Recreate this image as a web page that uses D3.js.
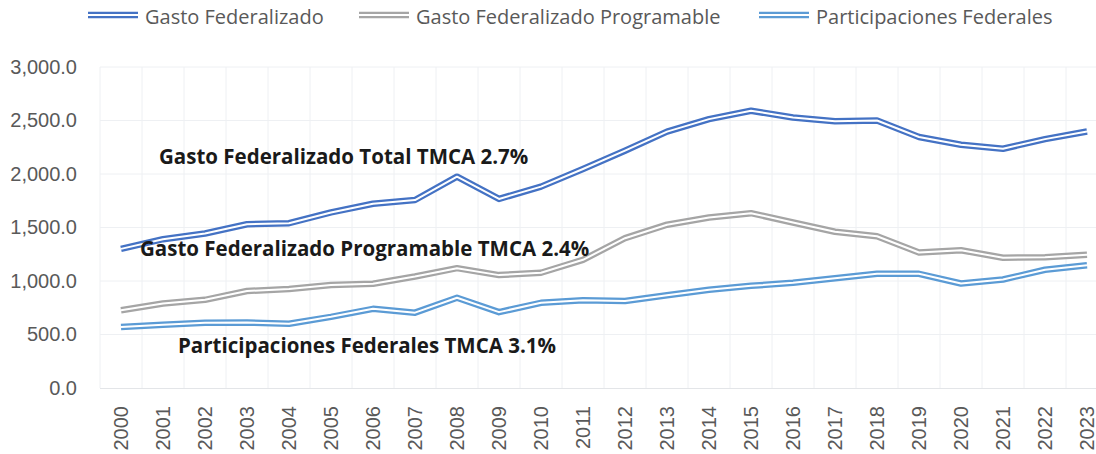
<!DOCTYPE html>
<html>
<head>
<meta charset="utf-8">
<script src="https://cdn.jsdelivr.net/npm/d3@7"></script>
<style>
	html, body { margin: 0; padding: 0; background: #fff; }
	svg { display: block; font-family: 'Open Sans', 'Noto Sans', sans-serif; }
</style>
</head>
<body>
<svg id="chart"></svg>
<script>
// data
const years = ['2000', '2001', '2002', '2003', '2004', '2005', '2006', '2007', '2008', '2009', '2010', '2011',
	'2012', '2013', '2014', '2015', '2016', '2017', '2018', '2019', '2020', '2021', '2022', '2023'];
const gastoFederalizado = [1300, 1391, 1444, 1530, 1540, 1641, 1722, 1757, 1975, 1767, 1882, 2047,
	2218, 2396, 2513, 2591, 2528, 2494, 2500, 2346, 2273, 2236, 2326, 2397];
const gastoProgramable = [726, 790, 824, 907, 925, 963, 975, 1042, 1120, 1055, 1077, 1198,
	1400, 1526, 1594, 1634, 1547, 1460, 1418, 1266, 1288, 1217, 1222, 1246];
const participaciones = [570, 591, 609, 612, 601, 665, 740, 704, 843, 709, 796, 821,
	813, 867, 918, 955, 983, 1026, 1067, 1067, 977, 1014, 1105, 1147];
const yTicks = [0, 500, 1000, 1500, 2000, 2500, 3000];
const seriesNames = ['Gasto Federalizado', 'Gasto Federalizado Programable', 'Participaciones Federales'];
const notes = ['Gasto Federalizado Total TMCA 2.7%', 'Gasto Federalizado Programable TMCA 2.4%', 'Participaciones Federales TMCA 3.1%'];

const totalWidth = 1096,
	totalHeight = 454;
const colors = ['#4472C4', '#A5A5A5', '#5B9BD5'];
const series = [gastoFederalizado, gastoProgramable, participaciones];

const svg = d3.select('#chart').attr('width', totalWidth).attr('height', totalHeight);

//scales - plot area runs past the right edge like in the picture
const xScale = d3.scaleBand().domain(years).range([100, 1108]);
const yScale = d3.scaleLinear().domain([0, 3000]).range([388, 67]);

//gridlines
const grid = svg.append('g');
grid.selectAll('.hgrid')
	.data(yTicks.slice(1))
	.enter()
	.append('line')
	.attr('x1', 100)
	.attr('x2', totalWidth)
	.attr('y1', (d) => yScale(d))
	.attr('y2', (d) => yScale(d))
	.attr('stroke', '#EEF0F3')
	.attr('stroke-width', 1);
grid.selectAll('.vgrid')
	.data(years)
	.enter()
	.append('line')
	.attr('x1', (d) => xScale(d))
	.attr('x2', (d) => xScale(d))
	.attr('y1', yScale(3000))
	.attr('y2', yScale(0))
	.attr('stroke', '#EEF0F3')
	.attr('stroke-width', 1);

//y axis labels
const yAxis = d3.axisLeft(yScale).tickValues(yTicks).tickFormat(d3.format(',.1f')).tickSize(0).tickPadding(0);
svg.append('g')
	.attr('transform', 'translate(77,0)')
	.call(yAxis)
	.call((g) => g.select('.domain').remove())
	.selectAll('text')
	.style('font-size', '20px')
	.attr('fill', '#595959')
	.attr('font-family', null);

//x axis
const xAxis = d3.axisBottom(xScale).tickSize(0).tickPadding(0);
const xg = svg.append('g')
	.attr('transform', 'translate(0,' + yScale(0) + ')')
	.call(xAxis);
xg.select('.domain').attr('stroke', '#E3E5E8').attr('d', 'M100,0.5H' + totalWidth);
xg.selectAll('text')
	.attr('font-family', null)
	.style('font-size', '20px')
	.attr('fill', '#595959')
	.attr('text-anchor', 'end')
	.attr('dy', '0.35em')
	.attr('transform', 'translate(0,18) rotate(-90)')
	.attr('x', 0)
	.attr('y', 0);

//double lines
const line = d3.line()
	.x((d, i) => xScale(years[i]) + xScale.bandwidth() / 2)
	.y((d) => yScale(d));

series.forEach((s, k) => {
	const g = svg.append('g');
	g.append('path')
		.attr('d', line(s))
		.attr('fill', 'none')
		.attr('stroke', colors[k])
		.attr('stroke-width', 6.5)
		.attr('stroke-linejoin', 'round');
	g.append('path')
		.attr('d', line(s))
		.attr('fill', 'none')
		.attr('stroke', '#fff')
		.attr('stroke-width', 2)
		.attr('stroke-linejoin', 'round');
});

//annotations
const notePos = [[159, 164], [140, 256], [178, 353]];
svg.selectAll('.note')
	.data(notes)
	.enter()
	.append('text')
	.attr('x', (d, i) => notePos[i][0])
	.attr('y', (d, i) => notePos[i][1])
	.style('font-size', '20.5px')
	.style('font-weight', 'bold')
	.attr('fill', '#1a1a1a')
	.text((d) => d);

//legend
const legendX = [88, 359, 759];
const legend = svg.selectAll('.legend')
	.data(seriesNames)
	.enter()
	.append('g')
	.attr('transform', (d, i) => 'translate(' + legendX[i] + ',15)');
legend.append('line')
	.attr('x1', 0)
	.attr('x2', 50)
	.attr('stroke', (d, i) => colors[i])
	.attr('stroke-width', 6.5);
legend.append('line')
	.attr('x1', 0)
	.attr('x2', 50)
	.attr('stroke', '#fff')
	.attr('stroke-width', 2);
legend.append('text')
	.attr('x', 57)
	.attr('y', 9)
	.style('font-size', '20px')
	.attr('fill', '#595959')
	.text((d) => d);
</script>
</body>
</html>
